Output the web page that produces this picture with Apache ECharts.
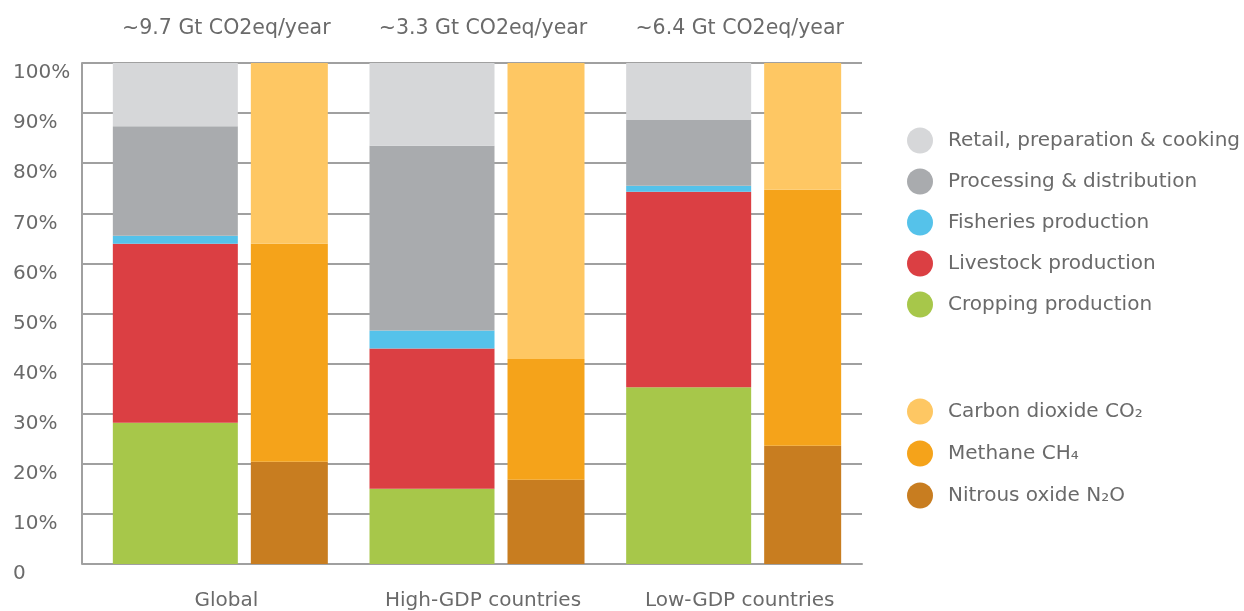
<!DOCTYPE html>
<html>
<head>
<meta charset="utf-8">
<script src="https://cdn.jsdelivr.net/npm/echarts@6/dist/echarts.min.js"></script>
<style>html,body{margin:0;padding:0;background:#fff;}#c{width:1244px;height:611px;}</style>
</head>
<body>
<div id="c"></div>
<script>
const categories = ['Global', 'High-GDP countries', 'Low-GDP countries'];
const totals = ['~9.7 Gt CO2eq/year', '~3.3 Gt CO2eq/year', '~6.4 Gt CO2eq/year'];
const yTicks = [0, 10, 20, 30, 40, 50, 60, 70, 80, 90, 100];

const cropping = [28.2, 15.0, 35.3];
const livestock = [35.7, 28.0, 39.0];
const fisheries = [1.6, 3.6, 1.2];
const processing = [21.9, 36.9, 13.1];
const retail = [12.6, 16.5, 11.4];

const nitrous = [20.4, 16.8, 23.6];
const methane = [43.5, 24.1, 51.1];
const carbon = [36.1, 59.1, 25.3];

const FONT = 'DejaVu Sans';
const TXT = '#6a6a6a';
const GRID = '#a0a0a0';

function foodSeries(name, data, color) {
  return { name, type: 'bar', stack: 'food', barWidth: 125, barGap: '10.4%', data,
           itemStyle: { color }, emphasis: { disabled: true } };
}
function gasSeries(name, data, color) {
  return { name, type: 'bar', stack: 'gas', barWidth: 77, barGap: '10.4%', data,
           itemStyle: { color }, emphasis: { disabled: true } };
}

const option = {
  animation: false,
  textStyle: { fontFamily: FONT },
  grid: { left: 92, right: 382, top: 63, bottom: 46.5 },
  legend: [
    {
      orient: 'vertical', left: 907, top: 127.5, itemWidth: 26, itemHeight: 26, itemGap: 15,
      icon: 'circle', padding: 0, selectedMode: false,
      textStyle: { fontFamily: FONT, fontSize: 20, color: TXT, padding: [0, 0, 0, 10] },
      data: ['Retail, preparation & cooking', 'Processing & distribution', 'Fisheries production',
             'Livestock production', 'Cropping production']
    },
    {
      orient: 'vertical', left: 907, top: 398.5, itemWidth: 26, itemHeight: 26, itemGap: 16,
      icon: 'circle', padding: 0, selectedMode: false,
      textStyle: { fontFamily: FONT, fontSize: 20, color: TXT, padding: [0, 0, 0, 10] },
      data: ['Carbon dioxide CO\u2082', 'Methane CH\u2084', 'Nitrous oxide N\u2082O']
    }
  ],
  xAxis: [
    {
      type: 'category', data: categories, position: 'bottom',
      axisLine: { show: true, lineStyle: { color: GRID, width: 2 } },
      axisTick: { show: false },
      axisLabel: { fontFamily: FONT, fontSize: 20, color: TXT, margin: 27, interval: 0,
                   hideOverlap: false, padding: [0, 0, 0, 12] },
      splitLine: { show: false }
    },
    {
      type: 'category', data: totals, position: 'top',
      axisLine: { show: false }, axisTick: { show: false },
      axisLabel: { fontFamily: FONT, fontSize: 20.5, color: TXT, margin: 24, interval: 0,
                   hideOverlap: false, padding: [0, 0, 0, 12] },
      splitLine: { show: false }
    }
  ],
  yAxis: {
    type: 'value', min: yTicks[0], max: yTicks[yTicks.length - 1], interval: 10, offset: 10,
    axisLine: { show: true, lineStyle: { color: GRID, width: 2 } },
    axisTick: { show: true, inside: true, length: 10, lineStyle: { color: GRID, width: 2 } },
    axisLabel: {
      fontFamily: FONT, fontSize: 20, color: TXT, align: 'left', margin: 69, verticalAlign: 'top',
      formatter: v => v === 0 ? '0' : v + '%'
    },
    splitLine: { show: true, lineStyle: { color: GRID, width: 2 } }
  },
  series: [
    foodSeries('Cropping production', cropping, '#a7c74a'),
    foodSeries('Livestock production', livestock, '#db3f43'),
    foodSeries('Fisheries production', fisheries, '#55c2ea'),
    foodSeries('Processing & distribution', processing, '#a9abae'),
    foodSeries('Retail, preparation & cooking', retail, '#d6d7d9'),
    gasSeries('Nitrous oxide N\u2082O', nitrous, '#c87d20'),
    gasSeries('Methane CH\u2084', methane, '#f5a31a'),
    gasSeries('Carbon dioxide CO\u2082', carbon, '#fec763')
  ]
};

const chart = echarts.init(document.getElementById('c'), null, { renderer: 'canvas' });
chart.setOption(option);
</script>
</body>
</html>
